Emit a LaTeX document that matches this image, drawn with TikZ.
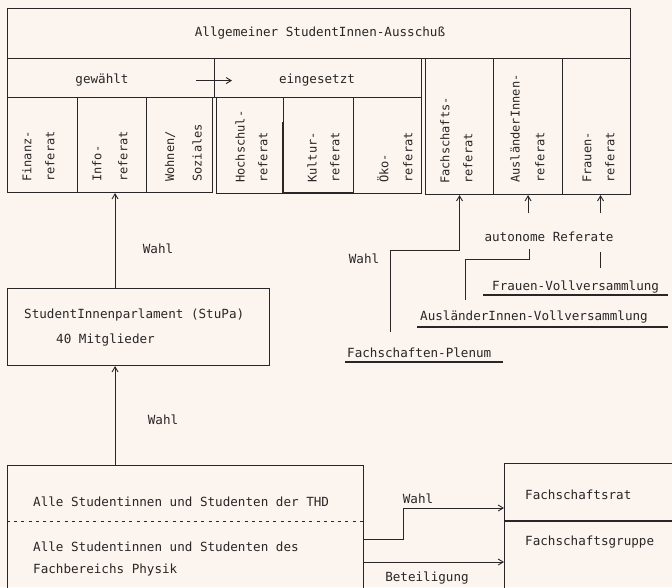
\documentclass[tikz,border=0pt]{standalone}
\usepackage{fontspec}
\usetikzlibrary{arrows.meta}
\newfontfamily\monofam{DejaVu Sans Mono}
\definecolor{paper}{RGB}{251,244,239}
\definecolor{ink}{RGB}{40,38,38}
\newcommand{\htxtfont}{\monofam\fontsize{12.6}{14}\selectfont}
\newcommand{\vtxtfont}{\monofam\fontsize{12}{14}\selectfont}
\tikzset{
  divline/.style={draw=ink, line width=1.1pt},
  conn/.style={draw=ink, line width=0.9pt},
  ul/.style={draw=ink, line width=1.2pt},
  txt/.style={font=\htxtfont, text=ink, inner sep=0pt},
  vtxt/.style={font=\vtxtfont, text=ink, inner sep=0pt, rotate=90, anchor=west},
  frame/.style={draw=ink, line width=1.1pt, inner sep=0pt, anchor=north west},
  col/.style={inner sep=0pt, outer sep=0pt, anchor=north west},
  arr/.style={draw=ink, line width=0.9pt, -{Straight Barb[length=5pt,width=6pt]}},
}
\begin{document}
\begin{tikzpicture}[x=1pt,y=-1pt]
\fill[paper] (0,0) rectangle (672,587);
\clip (0,0) rectangle (672,587);
\useasboundingbox (0,0) rectangle (672,587);

% AStA
\node[frame, minimum width=623, minimum height=50] (asta) at (7,8) {};
\node[txt] (astat) at (320,33) {Allgemeiner StudentInnen-Ausschuß};

% gewählt / eingesetzt row
\node[frame, minimum width=207, minimum height=39] (gew) at (7,58) {};
\node[frame, minimum width=207, minimum height=39] (ein) at (214,58) {};
\node[txt] (gewt) at (102,80) {gewählt};
\node[txt] (eint) at (317,80) {eingesetzt};
\draw[arr] ([xshift=-19pt,yshift=-2.5pt]gew.east) -- ([xshift=18pt,yshift=-2.5pt]ein.west);

% gewählte Referate
\node[frame, minimum width=70, minimum height=95] (fin) at (7,97) {};
\node[frame, minimum width=69, minimum height=95] (info) at (77,97) {};
\node[frame, minimum width=66, minimum height=95] (wohn) at (146,97) {};
% eingesetzte Referate
\node[frame, minimum width=67, minimum height=96] (hoch) at (216,97) {};
\node[col, minimum width=70, minimum height=96] (kult) at (283,97) {};
\node[frame, minimum width=68, minimum height=96] (oeko) at (353,97) {};
\draw[divline] (kult.south west) -- ([yshift=-25pt]kult.north west);
\draw[divline] (kult.south west) -- (kult.south east);
% autonome Referate
\node[frame, minimum width=68, minimum height=136] (fsr) at (425,58) {};
\node[frame, minimum width=69, minimum height=136] (aus) at (493,58) {};
\node[frame, minimum width=68, minimum height=136] (frr) at (562,58) {};

% vertical labels
\node[vtxt] (fin1) at (27,182) {Finanz-};
\node[vtxt] (fin2) at (50,182) {referat};
\node[vtxt] (info1) at (97,182) {Info-};
\node[vtxt] (info2) at (123,182) {referat};
\node[vtxt] (wohn1) at (170,182) {Wohnen/};
\node[vtxt] (wohn2) at (197,182) {Soziales};
\node[vtxt] (hoch1) at (240,183) {Hochschul-};
\node[vtxt] (hoch2) at (263,183) {referat};
\node[vtxt] (kult1) at (312,183) {Kultur-};
\node[vtxt] (kult2) at (335,183) {referat};
\node[vtxt] (oeko1) at (383,183) {Öko-};
\node[vtxt] (oeko2) at (408,183) {referat};
\node[vtxt] (fsr1) at (445,184) {Fachschafts-};
\node[vtxt] (fsr2) at (468,184) {referat};
\node[vtxt] (aus1) at (515,183) {AusländerInnen-};
\node[vtxt] (aus2) at (540,183) {referat};
\node[vtxt] (frr1) at (587,183) {Frauen-};
\node[vtxt] (frr2) at (610,183) {referat};

% StuPa
\node[frame, minimum width=262, minimum height=77] (stupa) at (7,288) {};
\node[txt, anchor=west] (stupa1) at (24,315) {StudentInnenparlament (StuPa)};
\node[txt, anchor=west] (stupa2) at (56,340) {40 Mitglieder};
\coordinate (infoin) at ([xshift=3pt]info.south);
\draw[arr] (infoin |- stupa.north) -- (infoin);
\node[txt] (wahl1) at (158,249) {Wahl};

% Alle Studierenden
\node[frame, minimum width=356, minimum height=140] (alle) at (7,465) {};
\coordinate (dl) at (7,521);
\coordinate (dr) at (363,521);
\draw[draw=ink, line width=0.9pt, dash pattern=on 3pt off 4.2pt] (dl) -- (dr);
\node[txt, anchor=west] (alle1) at (33,502) {Alle Studentinnen und Studenten der THD};
\node[txt, anchor=west] (alle2) at (33,547) {Alle Studentinnen und Studenten des};
\node[txt, anchor=west] (alle3) at (33,570) {Fachbereichs Physik};
\draw[arr] (infoin |- alle.north) -- (infoin |- stupa.south);
\node[txt] (wahl2) at (163,420) {Wahl};

% Fachschaft
\node[frame, minimum width=190, minimum height=140] (fs) at (504,463) {};
\coordinate (fsd) at (504,521);
\draw[divline] (fsd) -- (fsd -| fs.east);
\node[txt, anchor=west] (fsrat) at (525,495) {Fachschaftsrat};
\node[txt, anchor=west] (fsgr) at (525,542) {Fachschaftsgruppe};

\coordinate (wa) at (363,539);
\coordinate (wb) at (504,508);
\draw[arr] (wa) -- ++(40,0) |- (wb);
\node[txt] (wahl3) at (418,499) {Wahl};
\coordinate (ba) at (363,562);
\draw[arr] (ba) -- (ba -| fs.west);
\node[txt] (bet) at (427,578) {Beteiligung};

% Fachschaften-Plenum
\node[txt, anchor=west] (fsp) at (347,353) {Fachschaften-Plenum};
\draw[ul] (345,362) -- (503,362);
\coordinate (fpl) at (390,332);
\draw[arr] (fpl) -- ++(0,-82) -| (fsr.south);
\node[txt] (wahl4) at (364,259) {Wahl};

% autonome Referate
\node[txt] (auto) at (549,237) {autonome Referate};
\draw[arr] ([yshift=-18pt]aus.south) -- (aus.south);
\coordinate (frin) at ([xshift=4pt]frr.south);
\draw[arr] ([yshift=-18pt]frin) -- (frin);

\node[txt, anchor=west] (fvv) at (492,287) {Frauen-Vollversammlung};
\draw[ul] (483,295) -- (668,295);
\node[txt, anchor=west] (avv) at (420,317) {AusländerInnen-Vollversammlung};
\draw[ul] (417,327) -- (668,327);

\coordinate (a1) at (529,249);
\coordinate (a2) at (465,300);
\draw[conn] (a1) -- ++(0,10) -| (a2);
\coordinate (f1) at (600,252);
\coordinate (f2) at (600,268);
\draw[conn] (f1) -- (f2);
\end{tikzpicture}
\end{document}
